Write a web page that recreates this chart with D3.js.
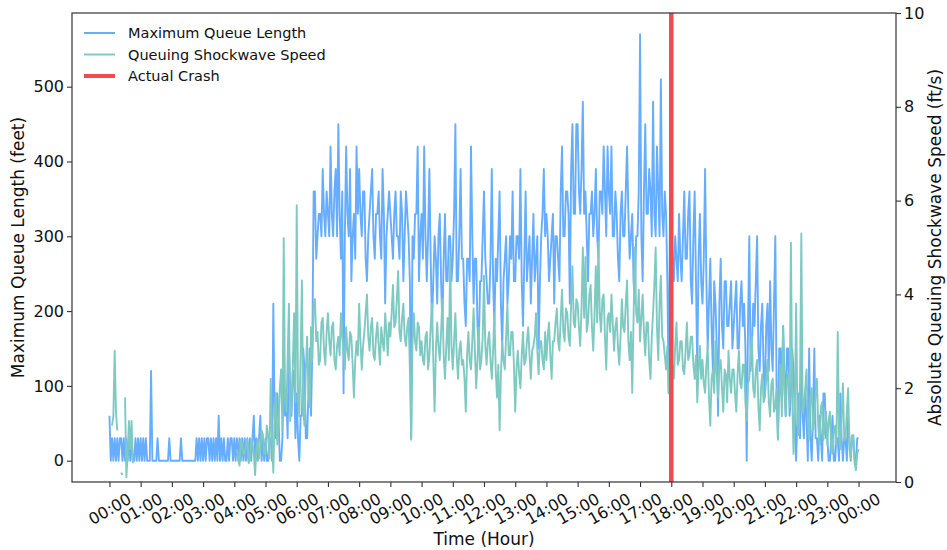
<!DOCTYPE html>
<html><head><meta charset="utf-8">
<script src="https://cdn.jsdelivr.net/npm/d3@7"></script>
<style>body{margin:0;background:#fff}text{font-family:"DejaVu Sans",sans-serif}</style>
</head><body><svg id="c" width="947" height="550"></svg>
<script>
const hourLabels = ["00:00","01:00","02:00","03:00","04:00","05:00","06:00","07:00","08:00","09:00","10:00","11:00","12:00","13:00","14:00","15:00","16:00","17:00","18:00","19:00","20:00","21:00","22:00","23:00","00:00"];
const leftTicks = [0,100,200,300,400,500];
const rightTicks = [0,2,4,6,8,10];
const seriesNames = ["Maximum Queue Length","Queuing Shockwave Speed","Actual Crash"];
const crashHour = 18;
const samplesPerHour = 24; // one sample every 2.5 minutes
// Maximum queue length (feet), 00:00 -> 24:00, one row per hour
const queueLength = [
 60,0,30,0,30,0,30,0,30,30,0,30,0,30,0,30,0,30,0,0,30,0,30,0,
 30,0,30,0,30,0,0,0,120,0,0,0,0,30,0,0,0,0,0,0,0,0,30,0,
 0,0,0,0,0,0,0,30,0,0,0,0,0,0,0,0,0,0,0,30,0,30,0,30,
 0,30,0,30,30,0,30,0,30,0,30,0,60,0,30,0,30,0,0,30,0,30,30,0,
 30,0,30,0,30,0,30,0,30,0,30,0,30,0,30,60,0,30,0,30,60,0,30,0,
 30,0,0,30,30,0,210,60,30,90,60,0,0,30,120,60,90,30,150,90,60,120,120,30,
 90,30,0,60,60,150,120,30,30,90,150,60,150,360,360,270,300,330,330,300,390,330,300,360,
 330,300,420,330,300,360,390,300,450,330,270,360,90,300,420,330,300,390,240,300,330,270,420,330,
 390,330,300,360,360,270,240,300,330,360,390,300,270,330,330,360,300,270,390,330,210,300,330,360,
 330,300,270,330,360,300,300,270,360,330,240,300,360,330,300,240,30,300,270,330,330,420,240,300,
 330,270,420,300,240,300,390,270,180,240,300,270,210,300,330,240,180,270,330,240,240,300,300,240,
 270,330,450,240,240,300,390,270,270,210,180,270,270,240,420,300,210,270,270,180,150,240,240,300,
 360,270,240,210,210,270,390,240,180,270,240,300,360,210,150,240,270,300,210,240,300,270,360,240,
 240,300,300,270,390,240,180,270,360,240,270,300,210,270,330,240,270,300,150,240,300,330,390,300,
 330,300,240,270,300,330,210,300,300,270,240,360,420,300,300,360,360,330,210,390,450,330,330,450,
 450,360,330,390,480,330,360,300,240,330,330,360,300,330,390,300,270,360,360,330,420,360,300,420,
 360,330,420,300,300,360,330,270,240,330,360,300,300,360,420,330,270,300,330,240,210,300,300,360,
 570,300,240,360,450,330,330,390,360,300,480,330,300,420,360,300,510,330,300,360,330,240,90,330,
 330,270,240,300,270,240,330,270,240,300,360,270,270,330,360,240,210,300,360,240,120,270,330,240,
 210,270,390,240,150,210,270,180,120,240,210,150,60,210,270,180,150,240,240,180,180,210,240,150,
 180,210,240,150,150,210,240,180,210,150,0,180,300,120,150,210,180,240,300,150,120,180,210,120,
 90,180,210,120,240,150,120,210,300,90,30,150,150,90,180,120,60,150,150,60,90,150,120,60,
 0,60,90,30,150,60,30,90,60,0,150,30,0,60,150,30,30,0,60,30,0,90,90,30,
 30,0,0,30,60,0,0,30,30,0,90,30,0,30,30,0,60,30,0,30,30,0,0,30,
 30];
// Absolute queuing shockwave speed (ft/s); null = no shockwave measured
const shockSpeed = [
 null,null,1.2,1.4,2.8,1.5,1.1,null,null,0.2,0.15,null,1.8,0.1,0.6,1.3,0.7,1.3,0.4,null,null,null,null,null,
 null,null,null,null,null,null,null,null,null,null,null,null,null,null,null,null,null,null,null,null,null,null,null,null,
 null,null,null,null,null,null,null,null,null,null,null,null,null,null,null,null,null,null,null,null,null,null,null,null,
 null,null,null,null,null,null,null,null,null,null,null,null,null,null,null,null,null,null,null,null,null,null,null,null,
 null,null,0.7,0.5,0.35,0.9,0.8,0.6,0.6,0.8,0.9,0.4,0.5,0.9,0.8,0.6,0.15,0.7,0.9,0.5,0.7,1.1,1.0,0.6,
 0.6,1.2,1.0,0.5,2.2,0.9,0.2,1.4,1.9,0.8,1.2,2.0,2.4,1.1,5.2,1.8,1.5,2.6,3.8,1.3,1.6,2.5,3.6,1.7,
 5.9,1.9,1.4,2.7,4.3,1.5,1.2,2.4,3.1,1.9,1.6,3.3,2.6,3.8,3.9,3.0,3.2,2.5,2.6,3.4,3.5,2.8,2.5,3.2,
 3.6,3.0,2.7,3.3,3.4,2.6,2.4,2.9,3.1,2.7,3.6,3.1,2.8,2.4,3.3,2.8,2.6,3.2,3.1,2.5,1.8,2.6,3.0,2.7,
 3.8,3.0,2.4,2.9,3.2,3.6,4.0,3.1,2.8,3.3,3.5,2.7,2.6,3.1,3.4,2.9,2.5,3.3,3.0,2.8,3.6,3.2,2.7,3.4,
 3.1,3.6,4.2,3.3,3.4,3.9,4.5,3.2,3.0,3.5,3.8,3.1,2.9,3.3,3.5,2.4,0.9,2.9,3.6,3.0,2.8,3.4,3.3,2.7,
 3.0,2.6,2.5,3.1,3.2,2.4,2.7,3.3,3.8,2.6,1.5,2.8,3.4,2.9,2.6,3.2,3.9,2.7,2.2,2.9,3.5,2.6,4.8,2.9,
 2.4,3.0,3.6,2.7,2.2,2.8,3.0,2.5,2.6,2.2,1.5,2.7,3.2,2.6,2.4,3.0,3.7,2.8,2.0,2.6,3.3,2.4,2.6,3.1,
 4.4,2.9,2.5,3.0,3.2,2.6,2.2,2.8,3.6,2.4,1.8,2.5,1.1,2.3,3.0,2.6,2.4,3.1,3.8,2.7,2.7,3.2,3.2,2.5,
 1.5,2.4,2.8,2.3,2.0,2.7,3.2,2.5,2.6,3.0,3.3,2.7,2.2,2.8,2.9,3.1,3.6,2.8,2.3,3.0,3.0,2.6,2.4,3.2,
 2.6,3.1,3.4,2.7,2.2,3.0,3.0,3.4,3.7,3.0,2.8,3.5,4.1,3.2,3.0,3.7,3.6,3.1,2.9,3.8,4.6,3.4,3.3,3.9,
 3.8,3.3,2.9,3.7,5.0,3.5,4.8,3.2,3.4,4.0,4.2,3.3,2.8,3.6,4.6,3.4,5.1,3.6,3.2,3.9,4.0,3.1,2.4,3.5,
 3.6,3.2,4.0,3.4,2.8,3.3,3.5,2.9,2.5,3.1,3.9,3.3,3.2,3.8,4.3,3.0,2.6,3.2,1.9,3.5,5.0,3.6,3.4,4.1,
 3.0,3.5,4.0,3.2,2.7,3.4,3.4,2.6,2.2,3.1,3.6,4.2,5.0,3.3,2.6,3.8,4.4,3.1,3.0,2.7,2.4,2.9,1.9,2.6,
 2.8,2.4,2.2,2.9,3.4,2.5,2.6,3.0,3.0,2.4,2.3,2.8,3.4,2.6,2.7,3.1,3.1,2.5,2.2,2.7,1.7,2.4,2.9,2.2,
 2.6,2.1,1.9,2.5,2.9,1.8,1.2,2.2,2.4,1.9,3.0,2.3,1.8,2.5,2.6,2.0,1.5,2.4,2.3,1.7,2.8,2.2,1.9,2.4,
 2.4,1.9,1.5,2.3,2.8,2.1,2.0,2.5,2.5,1.7,1.3,2.1,2.2,2.7,3.1,2.0,1.8,2.4,2.6,1.6,1.1,2.0,2.3,1.7,
 1.8,2.2,2.6,1.7,1.4,2.1,2.2,1.5,1.6,2.0,0.9,1.8,2.5,1.4,3.3,1.9,1.4,2.2,2.3,1.6,5.1,1.9,0.6,1.5,
 3.8,1.4,1.0,2.1,5.3,1.5,1.6,2.0,2.4,1.3,0.9,1.8,2.0,1.1,1.3,1.9,2.2,1.2,0.8,1.6,1.7,0.9,1.2,1.5,
 0.8,1.3,1.5,0.7,0.6,1.1,1.2,0.8,3.2,1.0,0.7,1.4,2.1,0.9,0.9,1.5,2.0,0.7,0.5,1.0,1.0,0.4,0.25,0.6,
 0.7];

const L = 72, R = 896, T = 13, B = 482;
const blue = "#66adff", teal = "#7ecac3", red = "#f24b4f";
const svg = d3.select("#c");
const x = d3.scaleLinear().domain([-1.2, 25.2]).range([L, R]);
const yL = d3.scaleLinear().domain([-28.5, 598.5]).range([B, T]);
const yR = d3.scaleLinear().domain([0, 10]).range([B, T]);
const hourOf = i => i / samplesPerHour;

svg.append("defs").append("clipPath").attr("id","clip")
  .append("rect").attr("x",L).attr("y",T).attr("width",R-L).attr("height",B-T);
const g = svg.append("g").attr("clip-path","url(#clip)");

const qLine = d3.line().x((d,i)=>x(hourOf(i))).y(d=>yL(d));
g.append("path").datum(queueLength).attr("d",qLine)
  .attr("fill","none").attr("stroke",blue).attr("stroke-width",1.9).attr("stroke-linejoin","round");

const sLine = d3.line().defined(d=>d!==null).x((d,i)=>x(hourOf(i))).y(d=>yR(d));
g.append("path").datum(shockSpeed).attr("d",sLine)
  .attr("fill","none").attr("stroke",teal).attr("stroke-width",1.9).attr("stroke-linejoin","round");

g.append("line").attr("x1",x(crashHour)).attr("x2",x(crashHour)).attr("y1",T).attr("y2",B)
  .attr("stroke",red).attr("stroke-width",4.5);

svg.append("rect").attr("x",L).attr("y",T).attr("width",R-L).attr("height",B-T)
  .attr("fill","none").attr("stroke","#333").attr("stroke-width",1.2);

function styleAxis(sel){
  sel.select(".domain").remove();
  sel.selectAll(".tick line").attr("stroke","#333").attr("stroke-width",1.1);
  sel.selectAll(".tick text").attr("fill","#111").style("font-size","16px").style("font-family","DejaVu Sans");
}
const ax = svg.append("g").attr("transform",`translate(0,${B})`)
  .call(d3.axisBottom(x).tickValues(d3.range(0,25)).tickFormat((d,i)=>hourLabels[i]).tickSize(5).tickSizeOuter(0));
styleAxis(ax);
ax.selectAll(".tick text").attr("y",0).attr("dy",null)
  .attr("text-anchor","middle").attr("dominant-baseline","central")
  .attr("transform","translate(0,27) rotate(-30)");

const al = svg.append("g").attr("transform",`translate(${L},0)`)
  .call(d3.axisLeft(yL).tickValues(leftTicks).tickSize(5).tickPadding(3));
styleAxis(al);
const ar = svg.append("g").attr("transform",`translate(${R},0)`)
  .call(d3.axisRight(yR).tickValues(rightTicks).tickSize(5).tickPadding(3));
styleAxis(ar);

svg.append("text").attr("x",(L+R)/2).attr("y",545).attr("text-anchor","middle")
  .style("font-size","17px").attr("fill","#111").text("Time (Hour)");
svg.append("text").attr("transform",`translate(18,${(T+B)/2}) rotate(-90)`).attr("text-anchor","middle")
  .attr("dominant-baseline","central").style("font-size","17px").attr("fill","#111").text("Maximum Queue Length (feet)");
svg.append("text").attr("transform",`translate(935,${(T+B)/2}) rotate(-90)`).attr("text-anchor","middle")
  .attr("dominant-baseline","central").style("font-size","17px").attr("fill","#111").text("Absolute Queuing Shockwave Speed (ft/s)");

const legColors = [blue, teal, red], legWidths = [2, 2, 4];
seriesNames.forEach((n,i)=>{
  const yy = 33 + i*21.5;
  svg.append("line").attr("x1",84).attr("x2",115).attr("y1",yy).attr("y2",yy)
    .attr("stroke",legColors[i]).attr("stroke-width",legWidths[i]);
  svg.append("text").attr("x",128).attr("y",yy).attr("dominant-baseline","central")
    .style("font-size","14.5px").attr("fill","#111").text(n);
});
</script></body></html>
